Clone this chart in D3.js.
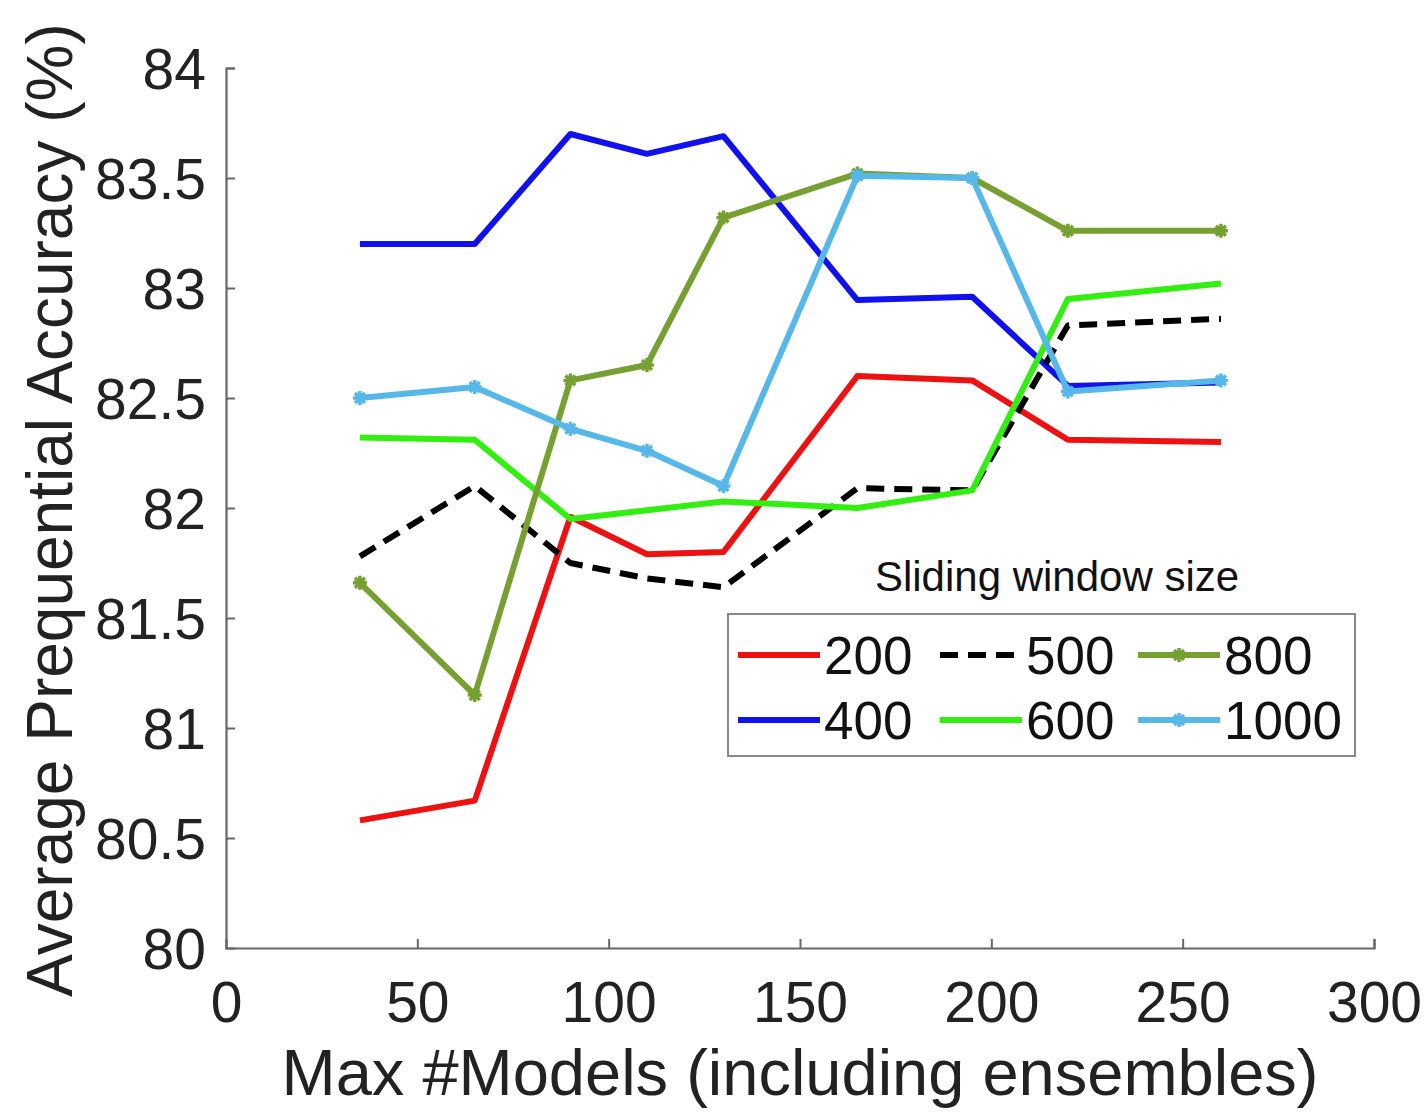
<!DOCTYPE html>
<html>
<head>
<meta charset="utf-8">
<script src="https://cdn.jsdelivr.net/npm/d3@7"></script>
<style>
  html, body { margin: 0; padding: 0; background: #fff; }
  svg { display: block; font-family: "Liberation Sans", Arial, Helvetica, sans-serif; }
</style>
</head>
<body>
<div id="chart"></div>
<script>
// x positions (max #models)
const modelCounts = [35, 65, 90, 110, 130, 165, 195, 220, 260];

// average prequential accuracy per sliding window size
const acc200 = [80.58, 80.67, 81.96, 81.79, 81.80, 82.60, 82.58, 82.31, 82.30];
const acc400 = [83.20, 83.20, 83.70, 83.61, 83.69, 82.945, 82.96, 82.555, 82.57];
const acc500 = [81.78, 82.10, 81.75, 81.68, 81.64, 82.09, 82.08, 82.83, 82.86];
const acc600 = [82.32, 82.31, 81.95, 81.99, 82.03, 82.00, 82.08, 82.95, 83.02];
const acc800 = [81.66, 81.15, 82.58, 82.65, 83.32, 83.52, 83.50, 83.26, 83.26];
const acc1000 = [82.50, 82.55, 82.36, 82.26, 82.10, 83.51, 83.50, 82.53, 82.58];

const xTicks = [0, 50, 100, 150, 200, 250, 300];
const yTicks = [80, 80.5, 81, 81.5, 82, 82.5, 83, 83.5, 84];

const series = [
  { name: '200', values: acc200, color: '#ee1111', dash: null, marker: false },
  { name: '400', values: acc400, color: '#1111ee', dash: null, marker: false },
  { name: '500', values: acc500, color: '#000000', dash: '18,10', marker: false },
  { name: '600', values: acc600, color: '#33ee11', dash: null, marker: false },
  { name: '800', values: acc800, color: '#77a032', dash: null, marker: true },
  { name: '1000', values: acc1000, color: '#55b8e8', dash: null, marker: true }
];

const width = 1427;
const height = 1113;
const margin = { top: 68, right: 53, bottom: 165, left: 226 };

const svg = d3.select('#chart').append('svg')
  .attr('width', width)
  .attr('height', height);

const x = d3.scaleLinear().domain([0, 300]).range([margin.left, width - margin.right]);
const y = d3.scaleLinear().domain([80, 84]).range([height - margin.bottom, margin.top]);

// axes: ticks pointing inward, matlab style
const xAxis = svg.append('g')
  .attr('transform', `translate(0, ${y(80)})`)
  .call(d3.axisBottom(x).tickValues(xTicks).tickSize(-9).tickPadding(24).tickFormat(d3.format('d')));
const yAxis = svg.append('g')
  .attr('transform', `translate(${x(0)}, 0)`)
  .call(d3.axisLeft(y).tickValues(yTicks).tickSize(-9).tickPadding(20).tickFormat(d => String(d)));

[xAxis, yAxis].forEach(g => {
  g.select('.domain').attr('stroke', '#666').attr('stroke-width', 2.2);
  g.selectAll('.tick line').attr('stroke', '#666').attr('stroke-width', 2);
  g.selectAll('.tick text')
    .attr('fill', '#222')
    .style('font-size', '57px')
    .style('font-family', '"Liberation Sans", Arial, sans-serif');
});
xAxis.selectAll('.tick text').attr('dy', '0.71em').attr('y', 34);
yAxis.selectAll('.tick text').attr('dy', '0.36em');
// no tick mark on the corner
xAxis.selectAll('.tick').filter(d => d === 0).select('line').remove();
yAxis.selectAll('.tick').filter(d => d === 80).select('line').remove();

// axis titles
svg.append('text')
  .attr('x', x(150))
  .attr('y', 1095)
  .attr('text-anchor', 'middle')
  .attr('fill', '#222')
  .style('font-size', '65px')
  .text('Max #Models (including ensembles)');

svg.append('text')
  .attr('transform', `translate(72, ${510}) rotate(-90)`)
  .attr('text-anchor', 'middle')
  .attr('fill', '#222')
  .style('font-size', '64px')
  .text('Average Prequential Accuracy (%)');

// asterisk marker path
function asterisk(r) {
  const d = r * Math.SQRT1_2;
  return `M${-r},0L${r},0M0,${-r}L0,${r}M${-d},${-d}L${d},${d}M${-d},${d}L${d},${-d}`;
}

const line = d3.line()
  .x((d, i) => x(modelCounts[i]))
  .y(d => y(d));

const plot = svg.append('g');
series.forEach(s => {
  plot.append('path')
    .datum(s.values)
    .attr('fill', 'none')
    .attr('stroke', s.color)
    .attr('stroke-width', 6)
    .attr('stroke-linejoin', 'round')
    .attr('stroke-dasharray', s.dash)
    .attr('d', line);
  if (s.marker) {
    plot.append('g')
      .selectAll('path')
      .data(s.values)
      .join('path')
      .attr('transform', (d, i) => `translate(${x(modelCounts[i])}, ${y(d)})`)
      .attr('d', asterisk(7))
      .attr('fill', 'none')
      .attr('stroke', s.color)
      .attr('stroke-width', 3.5);
  }
});

// legend
svg.append('text')
  .attr('x', 1057)
  .attr('y', 591)
  .attr('text-anchor', 'middle')
  .attr('fill', '#111')
  .style('font-size', '42px')
  .style('font-weight', 300)
  .text('Sliding window size');

const legend = svg.append('g');
legend.append('rect')
  .attr('x', 728).attr('y', 614)
  .attr('width', 627).attr('height', 142)
  .attr('fill', '#fff')
  .attr('stroke', '#888')
  .attr('stroke-width', 2);

const colX = [738, 940, 1138];
const rowY = [655, 720];
const legendOrder = ['200', '400', '500', '600', '800', '1000'];
legendOrder.forEach((name, k) => {
  const s = series.find(v => v.name === name);
  const cx = colX[Math.floor(k / 2)];
  const cy = rowY[k % 2];
  legend.append('line')
    .attr('x1', cx).attr('x2', cx + 82)
    .attr('y1', cy).attr('y2', cy)
    .attr('stroke', s.color)
    .attr('stroke-width', 6)
    .attr('stroke-dasharray', s.dash);
  if (s.marker) {
    legend.append('path')
      .attr('transform', `translate(${cx + 41}, ${cy})`)
      .attr('d', asterisk(7))
      .attr('fill', 'none')
      .attr('stroke', s.color)
      .attr('stroke-width', 3.5);
  }
  legend.append('text')
    .attr('x', cx + 86)
    .attr('y', cy + 19)
    .attr('fill', '#111')
    .style('font-size', '53px')
    .text(name);
});
</script>
</body>
</html>
